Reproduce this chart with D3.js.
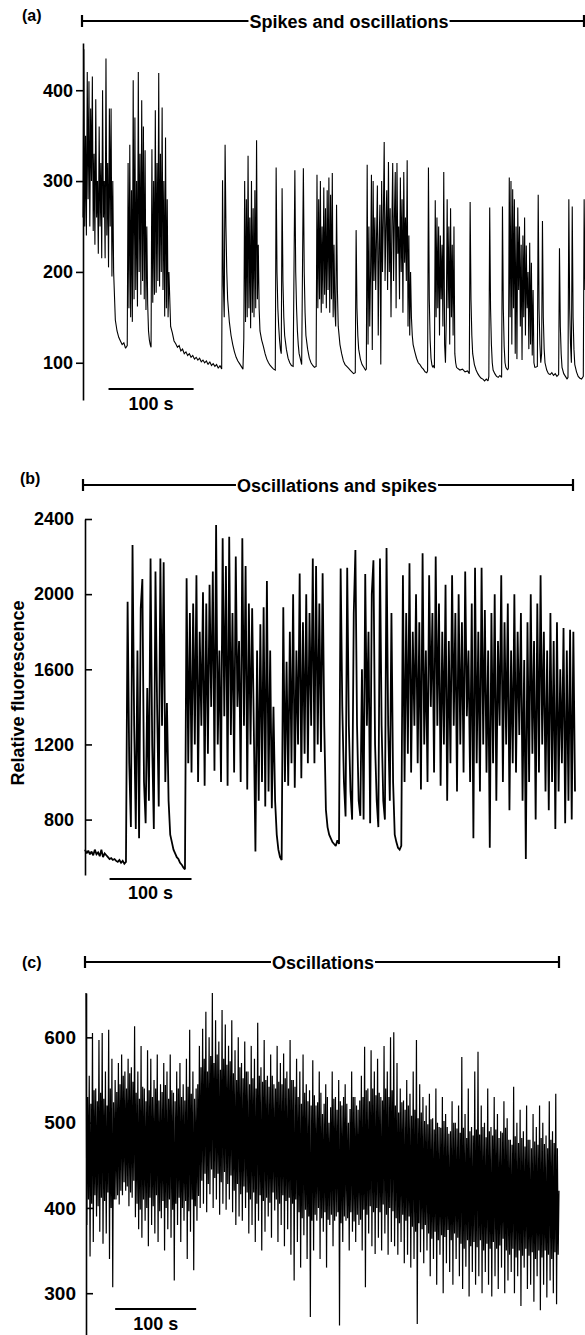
<!DOCTYPE html>
<html><head><meta charset="utf-8">
<script src="https://cdn.jsdelivr.net/npm/d3@7"></script>
<style>
body{margin:0;background:#fff}
svg{display:block}
text{font-family:"Liberation Sans",Arial,sans-serif;font-weight:bold;fill:#000}
</style>
</head><body>
<svg id="chart" width="585" height="1335"></svg>
<script>
// ---------- DATA ----------
// Panel (a): [time (s), relative fluorescence]
const traceA = [
[0,260],[1,445],[2,250],[3,350],[4,240],[5,420],[6,280],[7,410],[8,250],[9,380],[10,300],[11,415],[12,245],[13,330],[14,230],[15,390],[16,260],[17,300],[18,220],[19,360],[20,250],[21,320],[22,215],[23,400],[24,260],[25,300],[26,215],[27,435],[28,240],[29,320],[30,205],[31,380],[32,250],[33,380],[34,195],[35,300],[36,200],
[38,147],[40,135],[42,128],[44,124],[46,120],[48,122],[50,116],[52,119],
[53,320],[54,160],[55,340],[56,150],[57,290],[58,145],[59,411],[60,170],[61,370],[62,180],[63,300],[64,162],[65,420],[66,200],[67,330],[68,175],[69,389],[70,190],[71,360],[72,170],[73,334],[74,158],[75,250],[76,165],
[77,135],[78,125],[79,120],[80,117],
[81,335],[82,166],[83,300],[84,175],[85,378],[86,177],[87,320],[88,190],[89,419],[90,184],[91,330],[92,200],[93,381],[94,180],[95,300],[96,151],[97,348],[98,160],[99,280],[100,150],[101,200],
[103,140],[105,133],[107,124],[109,121],[111,117],[113,119],[115,113],[117,115],[119,110],[121,112],[123,108],[125,110],[127,106],[129,108],[131,104],[133,106],[135,103],[137,105],[139,101],[141,103],[143,100],[145,102],[147,98],[149,101],[151,97],[153,99],[155,96],[157,98],[159,94],[161,97],[163,93],
[164,301],[165,185],[166,150],[167,340],[168,250],[169,200],[170,170],[172,145],[174,130],[176,120],[178,112],[180,106],[182,102],[184,99],[186,96],[188,93],
[189,127],[190,300],[191,145],[192,280],[193,150],[194,328],[195,160],[196,260],[197,138],[198,300],[199,155],[200,270],[201,150],[202,290],[203,160],[204,345],[205,170],[206,230],
[207,160],[208,135],[210,125],[212,118],[214,110],[216,104],[218,100],[220,97],[222,95],[224,93],[226,92],
[227,315],[228,200],[229,160],[230,140],[231,125],[232,115],[233,110],[234,292],[235,190],[236,150],[237,130],[239,115],[241,105],[243,100],[245,97],[247,96],
[249,312],[250,200],[251,160],[252,135],[253,120],[254,110],[256,102],[257,98],
[259,314],[260,200],[261,155],[262,130],[264,115],[266,105],[268,100],[270,97],[272,95],[274,96],
[275,307],[276,160],[277,280],[278,170],[279,300],[280,155],[281,250],[282,165],[283,293],[284,175],[285,270],[286,160],[287,290],[288,180],[289,304],[290,155],[291,285],[292,170],[293,309],[294,150],[295,230],[296,160],[297,140],
[298,274],[299,180],[300,140],[302,120],[304,110],[306,102],[308,98],[310,96],[312,94],[314,92],[316,90],[318,88],[320,89],
[321,246],[322,160],[323,130],[324,115],[326,104],[328,98],[330,95],[332,92],[333,93],
[334,318],[335,120],[336,250],[337,140],[338,200],[339,307],[340,114],[341,300],[342,190],[343,260],[344,180],[345,240],[346,295],[347,130],[348,230],[349,274],[350,98],[351,300],[352,200],[353,260],[354,343],[355,190],[356,250],[357,290],[358,180],[359,321],[360,200],[361,270],[362,150],[363,250],[364,320],[365,190],[366,260],[367,310],[368,160],[369,320],[370,220],[371,250],[372,170],[373,304],[374,200],[375,280],[376,155],[377,310],[378,210],[379,260],[380,190],[381,323],[382,140],[383,240],[384,130],[385,200],[386,150],
[387,130],[388,120],[390,112],[392,105],[394,100],[396,98],[398,95],[400,93],[402,90],[404,89],[405,91],
[406,315],[407,170],[408,125],[409,105],[410,98],[411,95],[412,97],[413,94],
[414,279],[415,150],[416,260],[417,160],[418,250],[419,130],[420,240],[421,170],[422,230],[423,140],[424,310],[425,120],[426,100],[427,150],[428,280],[429,160],[430,250],[431,120],[432,270],[433,150],[434,230],[435,130],[436,250],[437,110],[438,100],[439,95],
[440,94],[443,92],[446,93],[449,90],[452,91],[454,88],
[455,277],[456,170],[457,130],[458,110],[460,98],[462,92],[464,88],[466,85],[468,83],[470,82],[472,80],[474,82],[476,80],[477,85],
[478,271],[479,160],[480,120],[481,100],[482,92],[484,88],[486,85],[488,84],[490,86],[492,84],
[493,272],[494,160],[495,118],[496,100],[497,95],[499,92],[500,94],
[501,304],[502,150],[503,300],[504,120],[505,291],[506,160],[507,280],[508,110],[509,250],[510,104],[511,271],[512,180],[513,250],[514,140],[515,230],[516,103],[517,240],[518,150],[519,260],[520,130],[521,229],[522,160],[523,200],[524,115],[525,232],[526,120],[527,210],[528,108],[529,180],[530,100],[531,95],[532,95],[534,96],
[535,285],[536,160],[537,120],[538,100],[539,110],[540,256],[541,150],[542,115],[543,100],[545,92],[547,88],[549,87],[551,89],[553,86],[555,88],[557,85],[559,87],
[560,226],[561,140],[562,110],[563,95],[565,88],[567,85],[569,82],[570,84],
[571,280],[572,160],[573,120],[574,100],[575,272],[576,150],[577,115],[578,98],[580,90],[582,85],[584,83],[586,82],[588,85],[589,280],[590,180]
];

// Panel (b): one reading every 2 s
const stepB = 2;
const traceB = [
640,620,635,615,630,610,640,615,625,605,640,600,620,610,600,590,595,585,590,580,575,585,570,580,565,575,
1960,1100,760,2262,1300,750,1700,700,1925,2080,1000,780,1500,900,2190,1200,750,2120,1400,870,2190,1300,2170,1000,
1420,900,720,680,640,620,600,590,570,560,545,535,
2085,1100,1900,1050,1950,1200,2100,1000,1800,1300,2010,980,1950,1150,2050,1400,2120,1060,2368,1200,1700,1000,2297,1350,2150,980,2305,1250,1900,1050,2200,1400,1750,1000,2297,1300,2150,960,1950,1200,1925,
1300,630,
1700,900,1840,1000,1930,870,2070,950,1700,860,
1400,900,720,640,600,585,
1930,1000,1640,980,1800,1100,2000,970,1700,1200,2110,1020,1850,1150,2000,1100,1900,1300,2190,1100,2150,1200,1950,1160,
2111,1300,852,760,720,700,680,670,660,690,670,
2137,1400,1000,817,2140,1300,950,800,1900,2235,1300,900,820,1600,800,2107,1300,1800,780,2000,2180,1200,900,760,2190,1300,900,800,2245,1300,900,1900,1000,720,680,650,640,660,
2100,1000,1900,1150,2165,1050,1800,1300,2000,1100,1850,960,2218,1200,1700,1000,2100,1400,1900,1050,2200,1300,1950,980,1800,1200,2050,900,1750,1100,2100,1300,1900,950,2000,1200,1850,1050,2120,1350,1700,1000,1950,700,
2140,1100,1800,950,2140,1200,1915,1050,1700,650,1900,1100,2000,900,1750,1300,2100,1000,1850,1200,1950,850,1700,1100,2000,1050,1800,1250,1900,900,1650,590,1850,1000,2000,1150,1750,800,1950,1050,2100,1200,1800,950,1700,850,1900,1000,1750,750,1850,950,1600,1100,1820,780,1700,900,1810,800,1800,950
];

// Panel (c): one reading every 1 s
const stepC = 1;
const traceC = [
652,380,530,410,555,343,522,405,605,360,538,415,540,390,525,402,597,372,535,412,
605,358,528,408,560,370,520,418,609,340,540,400,575,307,524,410,550,410,536,415,
570,404,545,420,580,415,555,430,560,420,540,425,575,402,558,418,565,412,548,432,
613,389,535,405,560,375,528,398,590,365,542,410,540,385,525,400,585,355,538,412,
575,380,530,402,550,370,540,415,580,360,526,396,545,388,536,408,570,350,544,400,
560,375,528,410,580,365,538,398,535,315,525,405,560,380,540,412,570,360,530,400,
545,385,526,408,575,340,542,396,609,372,534,410,560,327,528,402,540,385,545,414,
590,400,565,432,610,405,575,440,630,395,560,428,600,416,578,445,652,400,570,435,
620,410,580,440,595,392,562,430,632,405,575,442,615,398,568,428,590,410,572,438,
620,395,558,420,585,380,550,428,600,390,565,416,570,385,552,425,595,400,560,418,
560,370,545,410,590,380,552,418,575,360,540,405,617,385,555,415,565,350,548,408,
597,372,550,412,555,390,542,406,580,365,555,418,545,397,540,410,590,360,548,405,
570,380,545,415,581,355,552,408,560,375,540,412,597,345,550,405,550,315,542,410,
575,360,530,395,560,330,522,388,580,368,535,398,545,340,525,390,538,272,520,385,
573,350,532,392,520,385,524,400,560,340,535,388,510,372,522,395,545,330,530,386,
500,380,518,392,560,355,528,385,530,390,515,395,550,262,525,382,520,360,530,390,
545,385,522,388,500,350,516,395,560,372,530,384,530,360,520,392,515,380,526,386,
555,350,530,398,589,307,538,392,540,370,525,402,585,355,540,395,560,346,532,400,
575,365,535,395,530,350,526,404,590,370,540,392,560,345,530,400,600,360,538,396,
606,355,520,388,570,345,512,382,540,360,524,392,526,335,515,385,550,345,520,390,
534,330,508,378,560,340,515,372,597,264,505,382,545,348,512,375,530,335,502,380,
520,350,498,370,534,320,504,364,505,340,492,372,540,310,500,362,495,345,494,368,
530,300,502,366,510,335,495,374,487,325,490,362,525,310,500,370,500,340,493,365,
520,320,488,358,577,305,494,352,510,331,482,362,540,296,490,355,495,325,485,360,
560,310,492,354,583,320,486,362,520,300,495,350,500,325,483,358,540,310,490,352,
495,296,485,360,530,320,492,352,510,305,482,356,490,330,488,364,525,300,494,350,
505,315,480,345,480,325,474,352,542,300,484,342,500,320,476,350,515,285,482,344,
490,330,472,352,520,305,480,344,480,310,470,348,510,290,478,340,495,320,474,350,
520,280,482,342,500,310,475,350,485,295,470,345,525,315,480,340,490,300,476,348,
534,287,470,345,420
];

const ticksA = [100, 200, 300, 400];
const ticksB = [800, 1200, 1600, 2000, 2400];
const ticksC = [300, 400, 500, 600];
const panelLabels = ["(a)", "(b)", "(c)"];
const phaseTitles = ["Spikes and oscillations", "Oscillations and spikes", "Oscillations"];
const yAxisTitle = "Relative fluorescence";
const scaleBarText = "100 s";
const scaleBarSeconds = 100;

// ---------- LAYOUT ----------
const svg = d3.select("#chart");

const panels = [
  { data: traceA.map(d => ({t: d[0], v: d[1]})),
    xDom: [0, 590], xRange: [83, 585], yDom: [59, 452], yRange: [400, 43],
    ticks: ticksA, tickSize: 7, tickPad: 3, tickFont: 18,
    label: panelLabels[0], labelX: 22, labelY: 21,
    title: phaseTitles[0], brY: 21, brX0: 82, brX1: 584, titleCx: 349,
    barT0: 30, barY: 389, barTextY: 410, stroke: 1.1 },
  { data: traceB.map((v, i) => ({t: i * stepB, v})),
    xDom: [0, 598], xRange: [85, 575], yDom: [505, 2400], yRange: [875, 519],
    ticks: ticksB, tickSize: -7, tickPad: 11, tickFont: 18,
    label: panelLabels[1], labelX: 20, labelY: 484,
    title: phaseTitles[1], brY: 485, brX0: 83, brX1: 573, titleCx: 337,
    barT0: 30, barY: 879, barTextY: 899, stroke: 1.8 },
  { data: traceC.map((v, i) => ({t: i * stepC, v})),
    xDom: [0, 584], xRange: [86, 559], yDom: [251, 652], yRange: [1335, 993],
    ticks: ticksC, tickSize: -7, tickPad: 10, tickFont: 19,
    label: panelLabels[2], labelX: 22, labelY: 968,
    title: phaseTitles[2], brY: 962, brX0: 85, brX1: 559, titleCx: 323,
    barT0: 36, barY: 1309, barTextY: 1330, stroke: 1.2 }
];

panels.forEach(p => {
  const x = d3.scaleLinear().domain(p.xDom).range(p.xRange);
  const y = d3.scaleLinear().domain(p.yDom).range(p.yRange);
  const g = svg.append("g");

  // trace
  const line = d3.line().x(d => x(d.t)).y(d => y(d.v));
  g.append("path").datum(p.data)
    .attr("d", line)
    .attr("fill", "none")
    .attr("stroke", "#000")
    .attr("stroke-width", p.stroke)
    .attr("stroke-linejoin", "miter")
    .attr("stroke-miterlimit", 2);

  // y axis
  const axis = d3.axisLeft(y).tickValues(p.ticks).tickSize(p.tickSize).tickSizeOuter(0)
    .tickPadding(p.tickPad).tickFormat(d3.format("d"));
  const ag = g.append("g").attr("transform", `translate(${p.xRange[0]},0)`).call(axis);
  ag.select(".domain").attr("stroke", "#000").attr("stroke-width", 1.6);
  ag.selectAll(".tick line").attr("stroke", "#000").attr("stroke-width", 1.6);
  ag.selectAll(".tick text").attr("font-size", p.tickFont)
    .attr("font-family", "Liberation Sans, Arial, sans-serif").attr("font-weight", "bold").attr("fill", "#000");

  // panel label
  svg.append("text").attr("x", p.labelX).attr("y", p.labelY)
    .attr("font-size", 16).text(p.label);

  // phase bracket
  const tt = svg.append("text").attr("x", p.titleCx).attr("y", p.brY + 6.5)
    .attr("text-anchor", "middle").attr("font-size", 18).text(p.title);
  const w = tt.node().getComputedTextLength();
  const bg = svg.append("g").attr("stroke", "#000");
  bg.append("line").attr("x1", p.brX0).attr("x2", p.titleCx - w / 2 - 1)
    .attr("y1", p.brY).attr("y2", p.brY).attr("stroke-width", 2);
  bg.append("line").attr("x1", p.titleCx + w / 2 + 1).attr("x2", p.brX1)
    .attr("y1", p.brY).attr("y2", p.brY).attr("stroke-width", 2);
  [p.brX0, p.brX1].forEach(bx => {
    bg.append("line").attr("x1", bx).attr("x2", bx)
      .attr("y1", p.brY - 6).attr("y2", p.brY + 6).attr("stroke-width", 2.2);
  });

  // time scale bar
  const bx0 = x(p.barT0), bx1 = x(p.barT0 + scaleBarSeconds);
  svg.append("line").attr("x1", bx0).attr("x2", bx1).attr("y1", p.barY).attr("y2", p.barY)
    .attr("stroke", "#000").attr("stroke-width", 1.8);
  svg.append("text").attr("x", (bx0 + bx1) / 2).attr("y", p.barTextY)
    .attr("text-anchor", "middle").attr("font-size", 18).text(scaleBarText);
});

// y axis title (panel b)
svg.append("text").attr("transform", "translate(24,693) rotate(-90)")
  .attr("text-anchor", "middle").attr("font-size", 18).text(yAxisTitle);
</script>
</body></html>
